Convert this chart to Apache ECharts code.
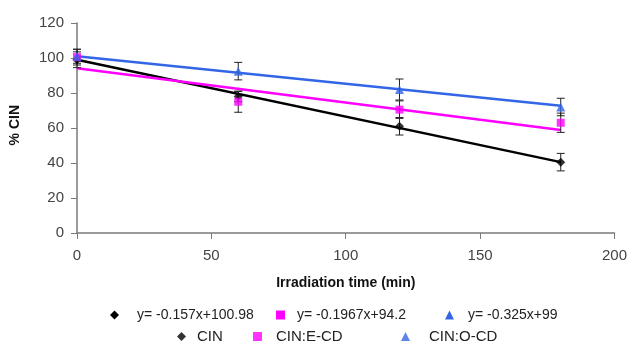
<!DOCTYPE html>
<html>
<head>
<meta charset="utf-8">
<script src="https://cdn.jsdelivr.net/npm/echarts@6/dist/echarts.min.js"></script>
<style>
  html, body { margin: 0; padding: 0; background: #fff; }
  #main { width: 630px; height: 346px; }
</style>
</head>
<body>
<div id="main"></div>
<script>
// measured points (x = irradiation time, min)
var times = [0, 60, 120, 180];
var cin = [99, 78, 61, 40.5];
var cinE = [100.5, 75, 70.5, 63];
var cinO = [101, 92.5, 82, 72];
// error bar half-widths
var cinErr = [4.5, 3, 5, 5];
var cinEErr = [4.5, 6, 5, 5.5];
var cinOErr = [4, 5, 6, 5];
// trend line end values at x = 0 and x = 180
var fitX = [0, 180];
var cinFit = [99, 40.5];
var cinEFit = [94.2, 58.8];
var cinOFit = [100.98, 72.7];
// legend labels
var eqNames = ['y= -0.157x+100.98', 'y= -0.1967x+94.2', 'y= -0.325x+99'];
var seriesNames = ['CIN', 'CIN:E-CD', 'CIN:O-CD'];
var colors = ['#000000', '#ff00ff', '#3366e6'];
var symbols = ['diamond', 'rect', 'triangle'];

var font = 'Liberation Sans, Arial, sans-serif';

function pts(ys) {
    return times.map(function (t, i) { return [t, ys[i]]; });
}
function fitPts(ys) {
    return fitX.map(function (t, i) { return [t, ys[i]]; });
}
function errPts(ys, es) {
    return times.map(function (t, i) { return [t, ys[i] - es[i], ys[i] + es[i]]; });
}

//误差棒
function errorBar(params, api) {
    var lo = api.coord([api.value(0), api.value(1)]);
    var hi = api.coord([api.value(0), api.value(2)]);
    var w = 4;
    var st = { stroke: '#222', lineWidth: 1 };
    return {
        type: 'group',
        children: [
            { type: 'line', shape: { x1: lo[0], y1: lo[1], x2: hi[0], y2: hi[1] }, style: st },
            { type: 'line', shape: { x1: lo[0] - w, y1: lo[1], x2: lo[0] + w, y2: lo[1] }, style: st },
            { type: 'line', shape: { x1: hi[0] - w, y1: hi[1], x2: hi[0] + w, y2: hi[1] }, style: st }
        ]
    };
}

var values = [cin, cinE, cinO];
var errs = [cinErr, cinEErr, cinOErr];
var fits = [cinFit, cinEFit, cinOFit];
var sizes = [9, 8, 9];

var series = [];
for (var i = 0; i < 3; i++) {
    series.push({
        name: eqNames[i],
        type: 'line',
        data: fitPts(fits[i]),
        symbol: 'none',
        lineStyle: { color: colors[i], width: 2.5 },
        itemStyle: { color: colors[i] },
        z: 2,
        silent: true
    });
}
for (var i = 0; i < 3; i++) {
    series.push({
        name: seriesNames[i] + ' err',
        type: 'custom',
        renderItem: errorBar,
        data: errPts(values[i], errs[i]),
        z: 3,
        silent: true
    });
}
for (var i = 0; i < 3; i++) {
    series.push({
        name: seriesNames[i],
        type: 'scatter',
        data: pts(values[i]),
        symbol: symbols[i],
        symbolSize: sizes[i],
        itemStyle: { color: colors[i] },
        z: 4
    });
}

// one legend per entry so each sits where the original has it
var eqLeft = [105, 271, 440];
var eqPad = [13, 7, 9];
var nameLeft = [172, 248, 396];
var namePad = [6, 9, 14];
var legends = [];
for (var i = 0; i < 3; i++) {
    legends.push({
        data: [{ name: eqNames[i], icon: symbols[i] }],
        left: eqLeft[i], top: 303,
        itemWidth: 9, itemHeight: 9,
        textStyle: { color: '#222', fontSize: 14, fontFamily: font, padding: [0, 0, 0, eqPad[i]] },
        selectedMode: false
    });
    legends.push({
        data: [{ name: seriesNames[i], icon: symbols[i] }],
        left: nameLeft[i], top: 324,
        itemWidth: 9, itemHeight: 9,
        textStyle: { color: '#222', fontSize: 15, fontFamily: font, padding: [0, 0, 0, namePad[i]] },
        selectedMode: false
    });
}

var chart = echarts.init(document.getElementById('main'));
chart.setOption({
    backgroundColor: '#fff',
    animation: false,
    textStyle: { fontFamily: font },
    grid: { left: 77, right: 14, top: 23, bottom: 113 },
    xAxis: {
        type: 'value',
        min: 0, max: 200, interval: 50,
        name: 'Irradiation time (min)',
        nameLocation: 'middle',
        nameGap: 43,
        nameTextStyle: { color: '#111', fontSize: 14, fontWeight: 'bold', fontFamily: font },
        axisLine: { lineStyle: { color: '#7a7a7a', width: 1.5 } },
        axisTick: { show: true, inside: false, length: 6, lineStyle: { color: '#7a7a7a' } },
        axisLabel: { color: '#444', fontSize: 15, margin: 15, fontFamily: font },
        splitLine: { show: false }
    },
    yAxis: {
        type: 'value',
        min: 0, max: 120, interval: 20,
        axisLine: { show: true, lineStyle: { color: '#7a7a7a', width: 1.5 } },
        axisTick: { show: true, inside: false, length: 6, lineStyle: { color: '#7a7a7a' } },
        axisLabel: { color: '#444', fontSize: 15, margin: 13, fontFamily: font },
        splitLine: { show: false }
    },
    legend: legends,
    graphic: [{
        type: 'text',
        left: 8, top: 105,
        rotation: Math.PI / 2,
        style: { text: '% CIN', font: 'bold 14px ' + font, fill: '#111' }
    }],
    series: series
});
</script>
</body>
</html>
